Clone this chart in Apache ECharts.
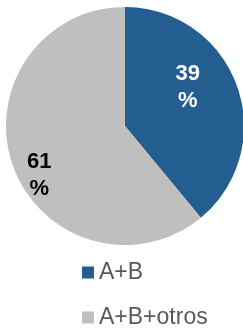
<!DOCTYPE html>
<html>
<head>
<meta charset="utf-8">
<script src="https://cdn.jsdelivr.net/npm/echarts@6/dist/echarts.min.js"></script>
<style>
  html, body { margin: 0; padding: 0; background: #fff; }
  #main { width: 243px; height: 329px; }
</style>
</head>
<body>
<div id="main"></div>
<script>
var categories = ['A+B', 'A+B+otros'];
var values = [39, 61];
var colors = ['#245E91', '#BFBFBF'];
var labelColors = ['#ffffff', '#000000'];
// nudges for the inside labels (the reference doesn't sit them at mid-angle)
var labelShift = [[4, -17], [-27, 28]];

var chart = echarts.init(document.getElementById('main'));

var option = {
    animation: false,
    textStyle: { fontFamily: 'Liberation Sans, Arial, sans-serif' },
    legend: {
        data: categories,
        orient: 'vertical',
        left: 82,
        top: 261,
        padding: 0,
        itemWidth: 12,
        itemHeight: 12,
        itemGap: 22,
        icon: 'rect',
        textStyle: {
            fontSize: 23,
            lineHeight: 22,
            color: '#595959'
        }
    },
    series: [
        {
            type: 'pie',
            center: [125, 126],
            radius: 119,
            startAngle: 90,
            clockwise: true,
            silent: true,
            itemStyle: { borderWidth: 0 },
            label: {
                position: 'inside',
                formatter: '{c}\n%',
                fontSize: 22,
                fontWeight: 'bold',
                lineHeight: 27
            },
            labelLayout: function (params) {
                var s = labelShift[params.dataIndex];
                return { dx: s[0], dy: s[1] };
            },
            data: categories.map(function (name, idx) {
                return {
                    name: name,
                    value: values[idx],
                    itemStyle: { color: colors[idx] },
                    label: { color: labelColors[idx] }
                };
            })
        }
    ]
};

chart.setOption(option);
</script>
</body>
</html>
